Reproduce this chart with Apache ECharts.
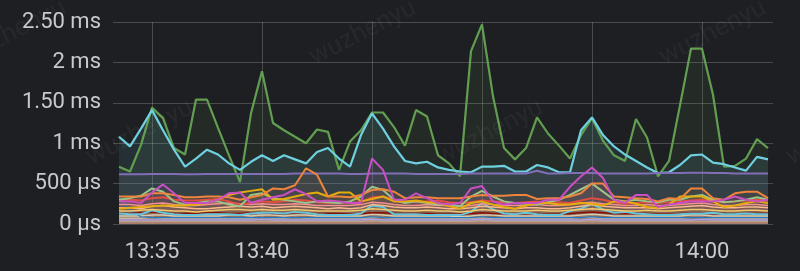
<!DOCTYPE html>
<html>
<head>
<meta charset="utf-8">
<script src="https://cdn.jsdelivr.net/npm/echarts@6/dist/echarts.min.js"></script>
<style>
html,body{margin:0;padding:0;background:#1e1f22;}
#chart{width:800px;height:271px;}
</style>
</head>
<body>
<div id="chart"></div>
<script>
const categories = [
'13:33:30','13:34:00','13:34:30','13:35:00','13:35:30','13:36:00','13:36:30','13:37:00','13:37:30','13:38:00',
'13:38:30','13:39:00','13:39:30','13:40:00','13:40:30','13:41:00','13:41:30','13:42:00','13:42:30','13:43:00',
'13:43:30','13:44:00','13:44:30','13:45:00','13:45:30','13:46:00','13:46:30','13:47:00','13:47:30','13:48:00',
'13:48:30','13:49:00','13:49:30','13:50:00','13:50:30','13:51:00','13:51:30','13:52:00','13:52:30','13:53:00',
'13:53:30','13:54:00','13:54:30','13:55:00','13:55:30','13:56:00','13:56:30','13:57:00','13:57:30','13:58:00',
'13:58:30','13:59:00','13:59:30','14:00:00','14:00:30','14:01:00','14:01:30','14:02:00','14:02:30','14:03:00'];
const xTickLabels = ['13:35','13:40','13:45','13:50','13:55','14:00'];
const yTickLabels = ['0 µs','500 µs','1 ms','1.50 ms','2 ms','2.50 ms'];

// values in ms
const green = [0.71,0.65,0.98,1.44,1.31,0.94,0.86,1.54,1.54,1.19,
 0.85,0.52,1.37,1.89,1.25,1.16,1.08,1.00,1.17,1.14,
 0.67,1.02,1.16,1.38,1.38,1.20,0.97,1.41,1.33,0.85,
 0.75,0.59,2.14,2.47,1.58,0.94,0.80,0.94,1.32,1.12,
 0.97,0.81,1.10,1.31,1.03,0.85,0.78,1.30,1.07,0.59,
 0.78,1.47,2.17,2.17,1.60,0.71,0.72,0.81,1.05,0.94];
const cyan = [1.08,0.96,1.18,1.41,1.16,0.92,0.71,0.81,0.92,0.86,
 0.75,0.67,0.77,0.85,0.78,0.85,0.80,0.75,0.89,0.94,
 0.81,0.71,1.10,1.37,1.18,0.96,0.78,0.75,0.77,0.70,
 0.67,0.65,0.64,0.71,0.71,0.72,0.65,0.65,0.73,0.70,
 0.64,0.64,1.16,1.32,1.10,0.96,0.86,0.78,0.70,0.63,
 0.64,0.73,0.85,0.86,0.76,0.74,0.70,0.66,0.83,0.80];
const purple = [0.615,0.615,0.615,0.62,0.62,0.62,0.615,0.615,0.62,0.62,
 0.62,0.62,0.62,0.62,0.62,0.62,0.625,0.625,0.625,0.625,
 0.625,0.62,0.62,0.625,0.625,0.625,0.625,0.62,0.62,0.62,
 0.62,0.62,0.625,0.625,0.625,0.625,0.625,0.625,0.66,0.625,
 0.625,0.63,0.63,0.63,0.625,0.625,0.625,0.625,0.625,0.63,
 0.63,0.63,0.635,0.635,0.63,0.63,0.625,0.625,0.625,0.625];
const magenta = [0.28,0.28,0.26,0.39,0.49,0.38,0.26,0.26,0.26,0.30,
 0.38,0.39,0.26,0.30,0.33,0.36,0.43,0.37,0.28,0.29,
 0.28,0.26,0.26,0.81,0.67,0.30,0.30,0.38,0.32,0.26,
 0.24,0.26,0.44,0.47,0.28,0.24,0.26,0.26,0.26,0.30,
 0.30,0.46,0.59,0.70,0.57,0.30,0.26,0.36,0.36,0.21,
 0.24,0.26,0.28,0.28,0.28,0.30,0.34,0.30,0.28,0.30];
const orange = [0.34,0.34,0.34,0.38,0.38,0.36,0.33,0.33,0.34,0.34,
 0.33,0.30,0.33,0.36,0.44,0.43,0.48,0.69,0.61,0.34,
 0.34,0.33,0.36,0.42,0.43,0.40,0.32,0.33,0.33,0.32,
 0.32,0.32,0.34,0.36,0.35,0.35,0.36,0.36,0.31,0.32,
 0.32,0.34,0.38,0.50,0.50,0.34,0.33,0.32,0.31,0.28,
 0.32,0.31,0.44,0.44,0.32,0.30,0.38,0.40,0.40,0.32];
const yellow = [0.19,0.20,0.21,0.22,0.23,0.23,0.23,0.24,0.26,0.30,
 0.36,0.39,0.41,0.43,0.30,0.31,0.34,0.37,0.39,0.34,
 0.39,0.39,0.28,0.31,0.34,0.28,0.28,0.29,0.27,0.26,
 0.22,0.19,0.26,0.28,0.24,0.21,0.19,0.23,0.26,0.26,
 0.24,0.24,0.26,0.25,0.23,0.28,0.28,0.25,0.21,0.20,
 0.24,0.34,0.34,0.34,0.28,0.21,0.23,0.26,0.28,0.26];
const lightGreen = [0.30,0.32,0.35,0.44,0.40,0.28,0.24,0.26,0.28,0.28,
 0.24,0.22,0.36,0.38,0.32,0.30,0.28,0.26,0.28,0.27,
 0.26,0.28,0.34,0.46,0.42,0.30,0.26,0.28,0.26,0.24,
 0.24,0.22,0.34,0.41,0.34,0.28,0.26,0.25,0.24,0.27,
 0.30,0.36,0.43,0.50,0.40,0.30,0.28,0.30,0.28,0.27,
 0.30,0.30,0.34,0.36,0.30,0.27,0.28,0.30,0.33,0.30];
const red = [0.30,0.30,0.29,0.32,0.33,0.30,0.29,0.29,0.30,0.31,
 0.28,0.24,0.26,0.28,0.27,0.28,0.30,0.29,0.27,0.26,
 0.27,0.26,0.27,0.33,0.34,0.30,0.28,0.27,0.28,0.29,
 0.27,0.26,0.27,0.29,0.28,0.27,0.26,0.27,0.28,0.26,
 0.27,0.26,0.29,0.32,0.30,0.27,0.25,0.26,0.27,0.26,
 0.27,0.28,0.29,0.30,0.28,0.27,0.28,0.29,0.30,0.29];
const pink = [0.24,0.24,0.23,0.25,0.26,0.24,0.23,0.23,0.24,0.25,
 0.26,0.25,0.24,0.25,0.24,0.24,0.25,0.24,0.23,0.23,
 0.23,0.23,0.24,0.27,0.26,0.24,0.23,0.23,0.24,0.23,
 0.23,0.22,0.23,0.25,0.24,0.23,0.23,0.23,0.24,0.23,
 0.23,0.24,0.26,0.27,0.25,0.24,0.23,0.23,0.24,0.23,
 0.23,0.24,0.25,0.26,0.24,0.23,0.23,0.24,0.24,0.23];
const peach = [0.20,0.20,0.19,0.22,0.23,0.21,0.20,0.19,0.19,0.20,
 0.21,0.22,0.21,0.22,0.20,0.21,0.22,0.21,0.20,0.19,
 0.20,0.19,0.20,0.24,0.23,0.21,0.20,0.20,0.21,0.20,
 0.19,0.19,0.20,0.22,0.21,0.20,0.19,0.20,0.20,0.19,
 0.19,0.20,0.22,0.24,0.22,0.21,0.20,0.20,0.20,0.19,
 0.20,0.21,0.22,0.23,0.21,0.20,0.20,0.21,0.21,0.20];
const lightYellow = [0.16,0.16,0.17,0.18,0.17,0.16,0.16,0.15,0.16,0.17,
 0.18,0.18,0.17,0.18,0.17,0.17,0.18,0.17,0.16,0.16,
 0.16,0.16,0.17,0.19,0.18,0.17,0.16,0.16,0.17,0.16,
 0.16,0.15,0.16,0.18,0.17,0.16,0.16,0.16,0.17,0.16,
 0.16,0.17,0.18,0.19,0.18,0.17,0.16,0.16,0.17,0.16,
 0.16,0.17,0.18,0.18,0.17,0.16,0.16,0.17,0.17,0.16];
const darkRed = [0.13,0.13,0.14,0.15,0.14,0.13,0.13,0.13,0.14,0.14,
 0.13,0.13,0.14,0.14,0.13,0.13,0.14,0.14,0.13,0.13,
 0.13,0.12,0.13,0.14,0.14,0.13,0.13,0.13,0.13,0.12,
 0.12,0.12,0.13,0.14,0.13,0.13,0.12,0.13,0.13,0.12,
 0.12,0.13,0.14,0.15,0.14,0.13,0.13,0.13,0.13,0.12,
 0.12,0.13,0.14,0.14,0.13,0.13,0.12,0.13,0.13,0.13];
const lightCyan = [0.13,0.12,0.12,0.17,0.14,0.12,0.11,0.11,0.12,0.12,
 0.12,0.11,0.13,0.14,0.14,0.13,0.15,0.14,0.12,0.11,
 0.11,0.11,0.13,0.23,0.21,0.12,0.12,0.12,0.11,0.11,
 0.11,0.11,0.15,0.26,0.18,0.13,0.12,0.14,0.12,0.11,
 0.11,0.16,0.19,0.25,0.18,0.14,0.15,0.13,0.12,0.11,
 0.11,0.12,0.13,0.13,0.14,0.12,0.12,0.13,0.12,0.12];
const blue = [0.33,0.17,0.09,0.08,0.08,0.08,0.08,0.08,0.08,0.08,
 0.08,0.08,0.08,0.08,0.08,0.08,0.08,0.08,0.08,0.08,
 0.08,0.08,0.08,0.09,0.08,0.08,0.08,0.08,0.08,0.08,
 0.08,0.08,0.08,0.09,0.08,0.08,0.08,0.08,0.08,0.08,
 0.08,0.08,0.08,0.09,0.08,0.08,0.08,0.08,0.08,0.08,
 0.08,0.08,0.08,0.08,0.08,0.08,0.08,0.08,0.08,0.08];
const paleGreen = [0.10,0.10,0.10,0.11,0.11,0.10,0.10,0.10,0.10,0.10,
 0.11,0.11,0.10,0.11,0.11,0.10,0.11,0.11,0.10,0.10,
 0.10,0.10,0.10,0.12,0.11,0.10,0.10,0.10,0.10,0.10,
 0.10,0.09,0.10,0.11,0.11,0.10,0.10,0.10,0.10,0.10,
 0.10,0.10,0.11,0.12,0.11,0.10,0.10,0.10,0.10,0.10,
 0.10,0.10,0.11,0.11,0.10,0.10,0.10,0.10,0.10,0.10];
const paleBlue = [0.07,0.07,0.07,0.08,0.07,0.07,0.07,0.07,0.07,0.07,
 0.07,0.07,0.07,0.08,0.07,0.07,0.08,0.07,0.07,0.07,
 0.07,0.07,0.07,0.08,0.08,0.07,0.07,0.07,0.07,0.07,
 0.07,0.07,0.07,0.08,0.07,0.07,0.07,0.07,0.07,0.07,
 0.07,0.07,0.08,0.08,0.07,0.07,0.07,0.07,0.07,0.07,
 0.07,0.07,0.08,0.08,0.07,0.07,0.07,0.07,0.07,0.07];
const lavender = [0.05,0.05,0.05,0.05,0.05,0.05,0.05,0.05,0.05,0.05,
 0.05,0.05,0.05,0.06,0.05,0.05,0.05,0.05,0.05,0.05,
 0.05,0.05,0.05,0.06,0.05,0.05,0.05,0.05,0.05,0.05,
 0.05,0.05,0.05,0.06,0.05,0.05,0.05,0.05,0.05,0.05,
 0.05,0.05,0.05,0.06,0.05,0.05,0.05,0.05,0.05,0.05,
 0.05,0.05,0.05,0.06,0.05,0.05,0.05,0.05,0.05,0.05];
const tan = [0.03,0.03,0.03,0.03,0.03,0.03,0.03,0.03,0.03,0.03,
 0.03,0.03,0.03,0.03,0.03,0.03,0.03,0.03,0.03,0.03,
 0.03,0.03,0.03,0.04,0.03,0.03,0.03,0.03,0.03,0.03,
 0.03,0.03,0.03,0.04,0.03,0.03,0.03,0.03,0.03,0.03,
 0.03,0.03,0.03,0.04,0.03,0.03,0.03,0.03,0.03,0.03,
 0.03,0.03,0.03,0.03,0.03,0.03,0.03,0.03,0.03,0.03];

// [name, values, colour, line width, fill opacity]
const seriesDefs = [
  ['green', green, '#629E51', 2.2, 0.1],
  ['cyan', cyan, '#6ED0E0', 2.2, 0.1],
  ['purple', purple, '#806EB7', 2, 0.1],
  ['tan', tan, '#B89F88', 1.5, 0.3],
  ['lavender', lavender, '#AEA2E0', 1.5, 0.12],
  ['paleBlue', paleBlue, '#C4B5A8', 1.5, 0.15],
  ['paleGreen', paleGreen, '#D8CDB0', 1.5, 0.12],
  ['blue', blue, '#1F78C1', 1.2, 0.06],
  ['darkRed', darkRed, '#890F02', 1.5, 0.1],
  ['lightCyan', lightCyan, '#65C5DB', 2, 0.08],
  ['lightYellow', lightYellow, '#F2C96D', 1.5, 0.08],
  ['peach', peach, '#F9BA8F', 1.5, 0.08],
  ['pink', pink, '#F29191', 1.5, 0.08],
  ['red', red, '#E24D42', 2, 0.08],
  ['lightGreen', lightGreen, '#9AC48A', 2, 0.08],
  ['yellow', yellow, '#E5AC0E', 2, 0.08],
  ['orange', orange, '#EF843C', 2, 0.08],
  ['magenta', magenta, '#C94FC2', 2, 0.08]
];

const gridColor = 'rgba(255,255,255,0.2)';
const textColor = '#c8c9d0';
const isTick = (idx, val) => val.endsWith(':00') && xTickLabels.includes(val.slice(0,5));

const wm = [[13,33],[363,33],[713,33],[140,133],[490,133],[840,133]].map(p => ({
  type: 'text', x: p[0], y: p[1], rotation: 0.47, silent: true, z: 100,
  style: { text: 'wuzhenyu', fontSize: 26, fontFamily: 'Roboto', fill: 'rgba(255,255,255,0.045)', align: 'center', verticalAlign: 'middle' }
}));

const chart = echarts.init(document.getElementById('chart'), null, {renderer: 'canvas'});
chart.setOption({
  backgroundColor: '#1e1f22',
  animation: false,
  textStyle: { fontFamily: 'Roboto' },
  grid: { left: 119, right: 32, top: 22, bottom: 47, containLabel: false },
  xAxis: {
    type: 'category', data: categories, boundaryGap: false,
    axisLine: { show: false }, axisTick: { show: false },
    axisLabel: { interval: isTick, formatter: v => v.slice(0,5), color: textColor, fontSize: 22, fontFamily: 'Roboto', margin: 17 },
    splitLine: { show: true, interval: isTick, lineStyle: { color: gridColor, width: 1 } }
  },
  yAxis: [{
    type: 'value', min: 0, max: 2.5, interval: 0.5,
    axisLine: { show: false },
    axisTick: { show: true, length: 6, lineStyle: { color: gridColor } },
    axisLabel: { formatter: v => yTickLabels[Math.round(v / 0.5)], color: textColor, fontSize: 22, fontFamily: 'Roboto', margin: 18 },
    splitLine: { show: true, lineStyle: { color: gridColor, width: 1 } }
  }, {
    type: 'value', min: 0, max: 2.5, interval: 0.5, position: 'right',
    axisLine: { show: false },
    axisTick: { show: true, length: 5, lineStyle: { color: gridColor } },
    axisLabel: { show: false }, splitLine: { show: false }
  }],
  graphic: wm,
  series: seriesDefs.map(d => ({
    name: d[0], type: 'line', data: d[1], symbol: 'none', smooth: false,
    lineStyle: { color: d[2], width: d[3] },
    itemStyle: { color: d[2] },
    areaStyle: { color: d[2], opacity: d[4] }
  }))
});
</script>
</body>
</html>
